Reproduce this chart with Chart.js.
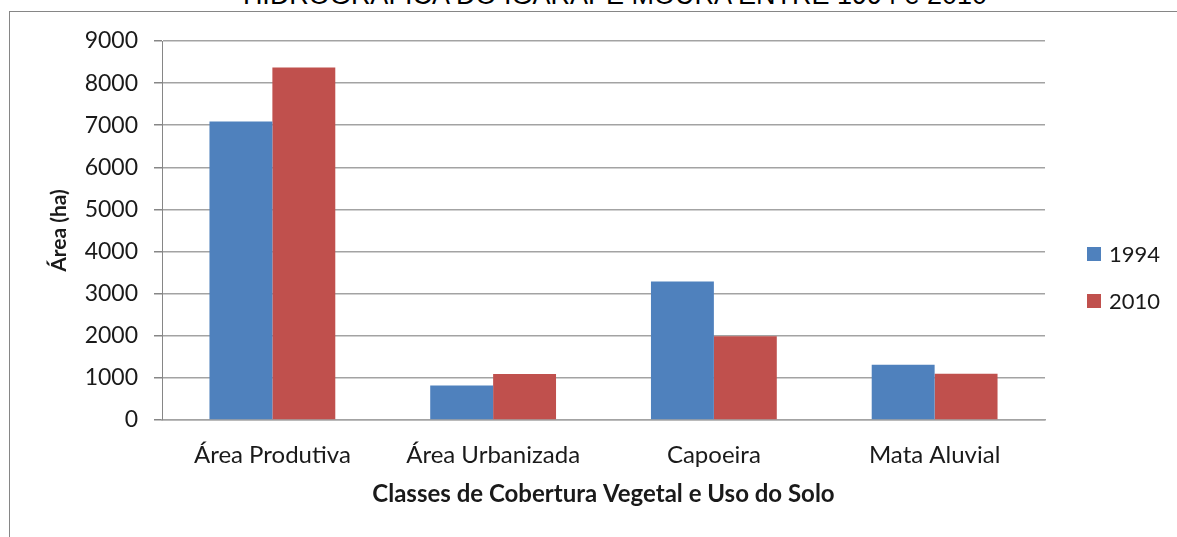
<!DOCTYPE html>
<html>
<head>
<meta charset="utf-8">
<script src="https://cdn.jsdelivr.net/npm/chart.js@4.4.1/dist/chart.umd.min.js"></script>
<style>
  html, body { margin: 0; padding: 0; background: #fff; overflow: hidden; }
  #wrap { position: relative; width: 1177px; height: 537px; }
  #chart { position: absolute; left: 0; top: 0; }
  .frame { position: absolute; left: 9px; top: 11px; width: 1200px; height: 600px; border: 1px solid #868686; box-sizing: border-box; pointer-events: none; }
  .title { position: absolute; left: 0; width: 1230px; top: -18px; text-align: center; font: 27px "Liberation Sans", Arial, sans-serif; line-height: 1; color: #000; white-space: nowrap; }
</style>
</head>
<body>
<div id="wrap">
  <div class="title">HIDROGRÁFICA DO IGARAPÉ MOURA ENTRE 1994 e 2010</div>
  <div class="frame"></div>
  <canvas id="chart" width="1177" height="537"></canvas>
</div>
<script>
const categories = ["Área Produtiva", "Área Urbanizada", "Capoeira", "Mata Aluvial"];
const series1994 = [7090, 820, 3290, 1310];
const series2010 = [8370, 1090, 1990, 1100];
const seriesLabels = ["1994", "2010"];
const yTicks = [0, 1000, 2000, 3000, 4000, 5000, 6000, 7000, 8000, 9000];

const textColor = "#1a1a1a";
const gridColor = "#a3a3a3";
const baseFont = "Lato, 'Open Sans', sans-serif";

// legend drawn to the right of the plot, Excel style
const sideLegend = {
  id: "sideLegend",
  afterDraw(chart) {
    const { ctx, chartArea } = chart;
    ctx.save();
    ctx.font = "22px " + baseFont;
    ctx.textBaseline = "middle";
    chart.data.datasets.forEach((ds, i) => {
      const y = chartArea.top + 213 + i * 47;
      const x = chartArea.right + 42;
      ctx.fillStyle = ds.backgroundColor;
      ctx.fillRect(x, y - 7, 14, 14);
      ctx.fillStyle = textColor;
      ctx.fillText(ds.label, x + 22, y + 1);
    });
    ctx.restore();
  }
};

new Chart(document.getElementById("chart"), {
  type: "bar",
  data: {
    labels: categories,
    datasets: [
      { label: seriesLabels[0], data: series1994, backgroundColor: "#4F81BD", categoryPercentage: 0.57, barPercentage: 1 },
      { label: seriesLabels[1], data: series2010, backgroundColor: "#C0504D", categoryPercentage: 0.57, barPercentage: 1 }
    ]
  },
  options: {
    responsive: false,
    animation: false,
    layout: { padding: { top: 41, right: 132, left: 0, bottom: 0 } },
    plugins: {
      legend: { display: false },
      tooltip: { enabled: false }
    },
    scales: {
      x: {
        grid: { display: false, drawTicks: false },
        border: { display: true, color: gridColor, width: 1.5 },
        ticks: { color: textColor, font: { family: baseFont, size: 24 }, padding: 21, maxRotation: 0 },
        title: {
          display: true,
          text: "Classes de Cobertura Vegetal e Uso do Solo",
          color: textColor,
          font: { family: baseFont, size: 24, weight: "bold" },
          padding: { top: 0, bottom: 28 }
        },
        afterFit(scale) { scale.height = 117; }
      },
      y: {
        min: 0,
        max: 9000,
        afterBuildTicks(scale) { scale.ticks = yTicks.map(v => ({ value: v })); },
        grid: { color: gridColor, lineWidth: 1.5, tickLength: 8, tickColor: "#868686" },
        border: { display: true, color: "#868686", width: 1 },
        ticks: { color: textColor, font: { family: baseFont, size: 23 }, padding: 16, callback: v => String(v) },
        title: {
          display: true,
          text: "Área (ha)",
          color: textColor,
          font: { family: baseFont, size: 21, weight: "bold" },
          padding: { top: 47, bottom: 0 }
        },
        afterFit(scale) { scale.width = 162; }
      }
    }
  },
  plugins: [sideLegend]
});
</script>
</body>
</html>
